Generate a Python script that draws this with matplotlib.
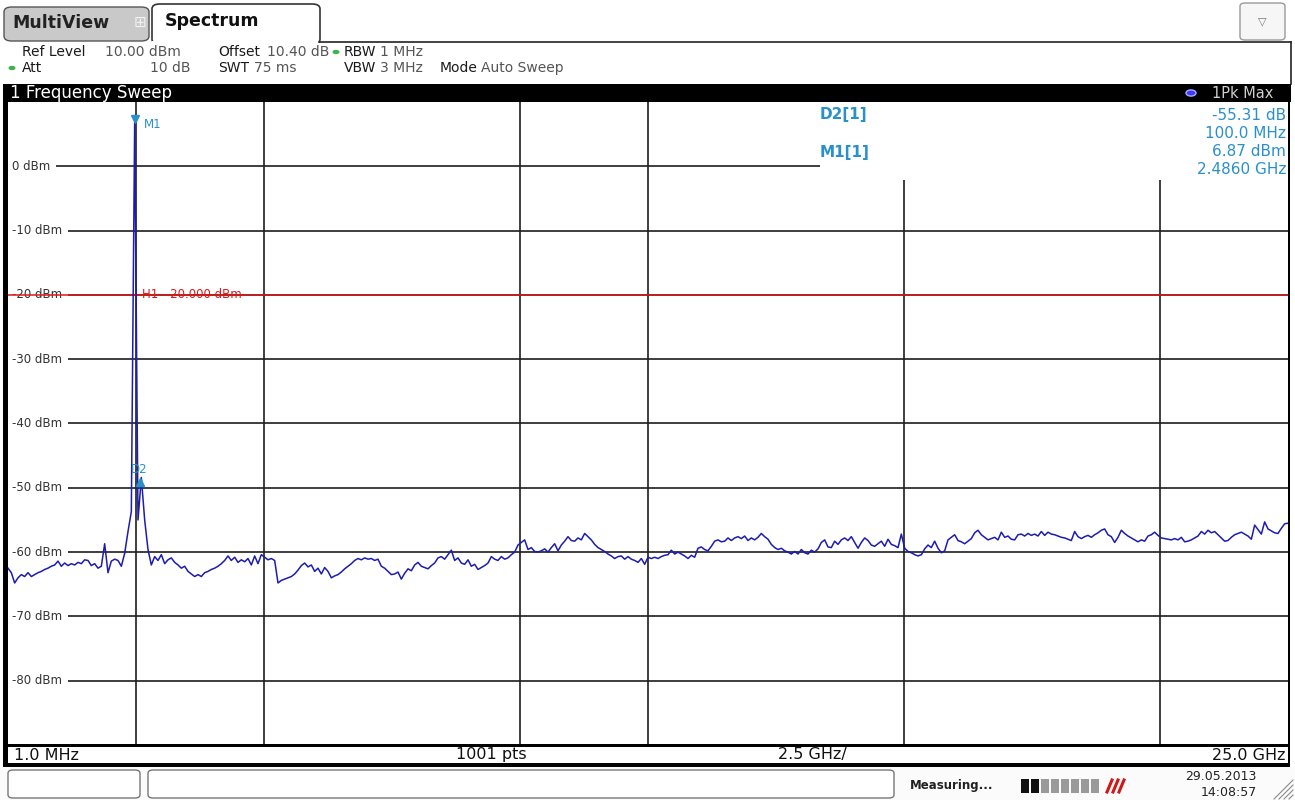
import numpy as np
import matplotlib.pyplot as plt
from matplotlib.patches import Rectangle, FancyBboxPatch
from matplotlib.transforms import offset_copy

W, H = 1295, 800

# sweep settings
start_ghz = 0.001
stop_ghz = 25.0
ref_level = 10.0
bottom_level = -90.0

# 1Pk Max trace, read across the span left to right
trace_dbm = [
    -62.5, -63.2, -64.8, -64.0, -63.5, -63.8, -63.2, -63.8, -63.5, -63.2,
    -63.0, -62.7, -62.5, -62.2, -62.0, -61.4, -62.2, -61.7, -62.1, -61.8,
    -62.0, -61.6, -61.8, -61.2, -61.3, -62.1, -61.8, -62.5, -62.2, -58.7,
    -63.2, -61.4, -61.1, -61.3, -62.2, -60.2, -56.8, -53.7, 6.87, -55.0,
    -48.4, -55.0, -59.6, -62.0, -60.7, -61.3, -60.4, -61.8, -61.2, -60.9,
    -61.6, -62.0, -62.5, -62.2, -63.0, -63.4, -63.8, -63.5, -63.8, -63.2,
    -63.0, -62.7, -62.5, -62.2, -61.8, -61.3, -60.6, -61.3, -60.8, -61.6,
    -61.2, -61.5, -61.0, -62.0, -60.6, -61.8, -60.4, -60.8, -61.2, -61.0,
    -61.3, -64.8, -64.4, -64.2, -64.0, -63.8, -63.4, -62.8, -62.1, -61.7,
    -62.3, -62.0, -63.0, -62.5, -63.4, -62.4, -63.0,
    -64.0, -63.7, -63.5, -63.1, -62.6, -62.2, -61.8, -61.3, -61.0, -61.2,
    -60.9, -61.1, -61.0, -61.3, -61.1, -62.2, -62.5, -63.0, -63.5, -63.4,
    -63.1, -64.2, -63.3, -62.6, -62.9, -62.0, -61.6, -62.2, -62.4, -62.6,
    -62.1, -61.7, -60.9, -60.7, -61.1, -60.4, -59.7, -61.3, -60.9, -61.7,
    -61.9, -61.2, -62.2, -61.9, -62.7, -62.4, -62.1, -61.7, -60.7, -61.1,
    -61.3, -60.7, -61.1, -60.9, -60.4, -60.0, -58.9, -58.5, -58.1, -59.6,
    -59.3, -59.9, -60.0, -59.8, -59.5, -60.0, -59.3, -58.7, -59.8, -58.9,
    -58.3, -57.6, -58.2, -58.3, -57.8, -58.1, -57.1, -57.6, -58.1, -58.8,
    -59.3, -59.6, -59.9, -60.3, -60.6, -61.0, -60.7, -60.6, -61.1, -60.7,
    -61.1, -61.3, -61.6, -61.0, -61.9, -60.8,
    -61.0, -60.8, -61.0, -60.7, -60.5, -60.4, -59.7, -60.3, -60.0, -60.3,
    -60.6, -61.0, -60.5, -60.8, -59.4, -59.2, -59.6, -59.8, -59.1, -58.3,
    -58.1, -58.4, -58.3, -57.8, -58.2, -57.8, -57.6, -57.9, -57.5, -58.2,
    -57.8, -58.1, -57.7, -57.1, -57.6, -58.0, -58.8, -59.3, -59.6, -59.4,
    -59.8, -60.0, -60.3, -59.9, -60.3, -59.6, -60.1, -60.3, -59.7, -60.0,
    -59.5, -58.5, -58.1, -59.2, -59.3, -58.3, -58.8, -58.1, -57.8, -58.2,
    -57.6, -58.5, -59.4, -58.5, -57.8, -58.2, -58.9, -59.1, -58.7, -58.3,
    -59.1, -58.0, -58.8, -59.0, -59.3, -57.2, -59.4, -59.9, -60.1, -60.4,
    -60.6, -60.4, -59.5, -58.9, -59.3, -58.3, -59.4, -60.1, -59.8, -58.1,
    -57.7, -57.3, -58.2, -58.4, -58.7, -58.3,
    -57.9, -57.0, -56.6, -57.3, -57.7, -58.1, -57.9, -57.7, -58.1, -56.9,
    -57.7, -57.5, -58.0, -58.1, -57.3, -57.2, -57.5, -57.1, -57.4, -57.2,
    -57.5, -56.8, -57.4, -56.9, -57.2, -57.3, -57.5, -57.7, -57.8, -58.0,
    -58.2, -56.8, -57.6, -57.9, -57.6, -57.4, -57.7, -57.3, -57.0, -56.6,
    -56.4, -57.3, -57.6, -58.5, -57.7, -56.6, -57.1, -57.5, -57.8, -58.1,
    -58.4, -58.1, -58.3, -57.5, -57.3, -56.9, -57.4, -57.8, -57.9, -58.0,
    -58.1, -57.9, -58.1, -57.7, -58.4, -58.3, -58.1, -57.8, -57.5, -56.8,
    -57.2, -56.6, -57.0, -56.8, -57.3, -57.8, -58.3, -58.2, -57.7, -57.3,
    -57.1, -56.9, -57.2, -57.5, -58.0, -55.8, -56.5, -57.2, -55.3, -56.4,
    -56.7, -57.0, -57.1, -56.3, -55.6, -55.5,
]

# grid, display line and markers
grid_ghz = [2.5, 5.0, 10.0, 12.5, 17.5, 22.5]
level_dbm = [0, -10, -20, -30, -40, -50, -60, -70, -80]
level_labels = ['0 dBm', '-10 dBm', '-20 dBm', '-30 dBm', '-40 dBm',
                '-50 dBm', '-60 dBm', '-70 dBm', '-80 dBm']
h1_dbm = -20.0
m1_ghz, m1_dbm = 2.486, 6.87
d2_offset_mhz, d2_delta_db = 100.0, -55.31

TRACE = '#1c1cb0'
MARK = '#2a90cc'
GRID = '#1e1e1e'


def fx(x):
    return x / W


def fy(y):
    return 1 - y / H


def ftext(x, y, s, **kw):
    kw.setdefault('va', 'center')
    fig.text(fx(x), fy(y), s, **kw)


def frect(x0, y0, x1, y1, **kw):
    fig.patches.append(Rectangle((fx(x0), fy(y1)), (x1 - x0) / W, (y1 - y0) / H,
                                 transform=fig.transFigure, **kw))


fig = plt.figure(figsize=(W / 100, H / 100), dpi=100)
fig.patch.set_facecolor('white')

# ---- tabs and header ----
fig.patches.append(FancyBboxPatch((fx(4), fy(41)), 145 / W, 34 / H,
                                  boxstyle='round,pad=0,rounding_size=0.006',
                                  transform=fig.transFigure, fc='#c9c9c9', ec='#555555', lw=1))
fig.patches.append(FancyBboxPatch((fx(152), fy(44)), 168 / W, 40 / H,
                                  boxstyle='round,pad=0,rounding_size=0.006',
                                  transform=fig.transFigure, fc='white', ec='#333333', lw=1.2))
frect(152, 41, 319, 46, fc='white', ec='none')
fig.lines.append(plt.Line2D([fx(319), fx(1291)], [fy(42), fy(42)], transform=fig.transFigure,
                            color='#222222', lw=1.2))
fig.lines.append(plt.Line2D([fx(1291), fx(1291)], [fy(42), fy(84)], transform=fig.transFigure,
                            color='#222222', lw=1.2))
ftext(12, 23, 'MultiView', fontsize=12.5, fontweight='bold', color='#222222')
ftext(140, 22, '\u229e', fontsize=11, color='#f2f2f2', ha='center')
ftext(165, 21, 'Spectrum', fontsize=12.5, fontweight='bold', color='#111111')
fig.patches.append(FancyBboxPatch((fx(1240), fy(40)), 45 / W, 37 / H,
                                  boxstyle='round,pad=0,rounding_size=0.004',
                                  transform=fig.transFigure, fc='#f6f6f6', ec='#9a9a9a', lw=1))
ftext(1262, 21, '\u25bd', fontsize=8, color='#777777', ha='center')

hdr = dict(fontsize=10, color='#1a1a1a')
val = dict(fontsize=10, color='#555555')
ftext(22, 52, 'Ref Level', **hdr)
ftext(105, 52, '10.00 dBm', **val)
ftext(218, 52, 'Offset', **hdr)
ftext(267, 52, '10.40 dB', **val)
ftext(344, 52, 'RBW', **hdr)
ftext(380, 52, '1 MHz', **val)
ftext(22, 68, 'Att', **hdr)
ftext(190, 68, '10 dB', ha='right', **val)
ftext(218, 68, 'SWT', **hdr)
ftext(297, 68, '75 ms', ha='right', **val)
ftext(344, 68, 'VBW', **hdr)
ftext(380, 68, '3 MHz', **val)
ftext(440, 68, 'Mode', **hdr)
ftext(481, 68, 'Auto Sweep', **val)
for gx, gy in [(12, 68), (336, 52)]:
    fig.patches.append(plt.Circle((fx(gx), fy(gy)), 3.5 / W, transform=fig.transFigure,
                                  fc='#3cb44b', ec='none'))

# ---- window title bar ----
frect(3, 84, 1291, 102, fc='black', ec='none')
ftext(10, 93, '1 Frequency Sweep', fontsize=12, color='white')
ftext(1273, 93, '1Pk Max', fontsize=10.5, color='#cfcfcf', ha='right')
fig.patches.append(plt.Circle((fx(1191), fy(93)), 5 / W, transform=fig.transFigure,
                              fc='#3b3bff', ec='#aaaaff', lw=1))

# ---- diagram ----
ax = fig.add_axes([fx(8), fy(745), 1280 / W, 643 / H])
ax.set_xlim(start_ghz, stop_ghz)
ax.set_ylim(bottom_level, ref_level)
ax.set_axis_off()

for g in grid_ghz:
    ax.axvline(g, color=GRID, lw=1.2, zorder=1)
for lv, lab in zip(level_dbm, level_labels):
    ax.axhline(lv, color=GRID, lw=1.2, zorder=1)
    ax.text(0.0, lv, lab, transform=offset_copy(ax.get_yaxis_transform(), fig=fig,
                                                x=4, units='dots'),
            fontsize=8.5, color='#333333', va='center', ha='left', zorder=2,
            bbox=dict(fc='white', ec='none', pad=4))

# marker table area
ax.add_patch(Rectangle((0.634, 0.879), 0.366, 0.121, transform=ax.transAxes,
                       fc='white', ec='none', zorder=2))

# display line H1
ax.axhline(h1_dbm, color='#e01818', lw=1.1, zorder=3)
ax.text(2.62, h1_dbm, 'H1  %.3f dBm' % h1_dbm, fontsize=8.5, color='#e01818',
        va='center', ha='left', zorder=4)

freq = np.linspace(start_ghz, stop_ghz, len(trace_dbm))
ax.plot(freq, trace_dbm, color=TRACE, lw=1.1, zorder=5)

d2_ghz = m1_ghz + d2_offset_mhz / 1000
d2_dbm = m1_dbm + d2_delta_db
ax.plot([m1_ghz], [m1_dbm], marker='v', ms=6, color=MARK, zorder=6,
        transform=offset_copy(ax.transData, fig=fig, y=3, units='dots'))
ax.plot([d2_ghz], [d2_dbm], marker='^', ms=6, color=MARK, zorder=6,
        transform=offset_copy(ax.transData, fig=fig, y=-4, units='dots'))
ax.text(m1_ghz, m1_dbm, 'M1', fontsize=8.5, color=MARK, va='center', ha='left', zorder=6,
        transform=offset_copy(ax.transData, fig=fig, x=9, y=-2, units='dots'))
ax.text(d2_ghz, d2_dbm, 'D2', fontsize=8.5, color=MARK, va='bottom', ha='center', zorder=6,
        transform=offset_copy(ax.transData, fig=fig, x=-1, y=2, units='dots'))

# marker readout
mk = dict(fontsize=11, color=MARK)
ftext(820, 115, 'D2[1]', fontweight='bold', **mk)
ftext(1286, 115, '%.2f dB' % d2_delta_db, ha='right', **mk)
ftext(1286, 133, '%.1f MHz' % d2_offset_mhz, ha='right', **mk)
ftext(820, 152, 'M1[1]', fontweight='bold', **mk)
ftext(1286, 152, '%.2f dBm' % m1_dbm, ha='right', **mk)
ftext(1286, 170, '%.4f GHz' % m1_ghz, ha='right', **mk)

# ---- frame and scale bar ----
frect(3, 102, 8, 766, fc='black', ec='none')
frect(1288, 102, 1290, 766, fc='black', ec='none')
frect(3, 744, 1290, 747, fc='black', ec='none')
frect(3, 763, 1290, 767, fc='black', ec='none')
sc = dict(fontsize=11.5, color='#111111')
ftext(14, 755, '%.1f MHz' % (start_ghz * 1000), **sc)
ftext(491, 755, '%d pts' % 1001, ha='center', **sc)
ftext(812, 755, '%.1f GHz/' % 2.5, ha='center', **sc)
ftext(1286, 755, '%.1f GHz' % stop_ghz, ha='right', **sc)

# ---- status bar ----
frect(0, 767, W, H, fc='#fbfbfb', ec='none')
for x0, x1 in [(8, 140), (148, 894)]:
    fig.patches.append(FancyBboxPatch((fx(x0), fy(798)), (x1 - x0) / W, 28 / H,
                                      boxstyle='round,pad=0,rounding_size=0.004',
                                      transform=fig.transFigure, fc='white', ec='#777777', lw=1))
ftext(910, 786, 'Measuring...', fontsize=8.5, fontweight='bold', color='#222222')
for i in range(8):
    frect(1021 + i * 10, 779, 1029 + i * 10, 793,
          fc='#111111' if i < 2 else '#9a9a9a', ec='none')
for k in range(3):
    fig.lines.append(plt.Line2D([fx(1107 + 6 * k), fx(1112 + 6 * k)], [fy(792), fy(780)],
                                transform=fig.transFigure, color='#d01818', lw=2.2))
ftext(1257, 776, '29.05.2013', fontsize=9, color='#222222', ha='right')
ftext(1257, 793, '14:08:57', fontsize=9, color='#222222', ha='right')
for k in range(4):
    fig.lines.append(plt.Line2D([fx(1293 - 4 - 5 * k), fx(1293)], [fy(799), fy(799 - 4 - 5 * k)],
                                transform=fig.transFigure, color='#8a8a8a', lw=0.8))

fig.savefig('out.png', dpi=100)
